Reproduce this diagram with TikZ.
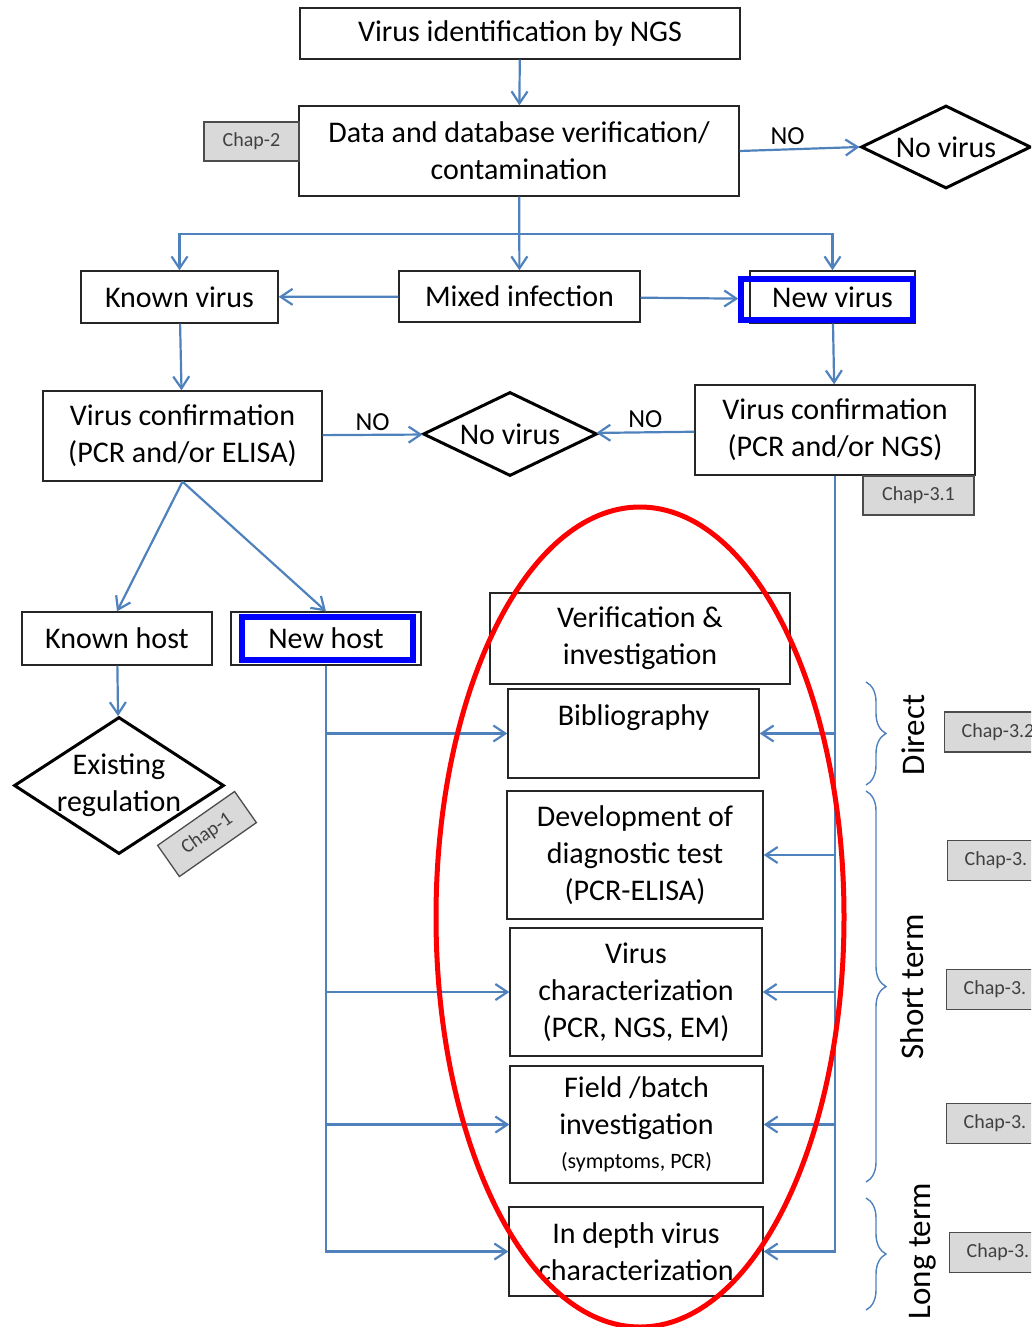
\documentclass[tikz,border=0pt]{standalone}
\usepackage{fontspec}
\setmainfont{Carlito}
\usetikzlibrary{shapes.geometric, arrows.meta, positioning, decorations.pathreplacing}
\definecolor{linkblue}{RGB}{79,129,189}
\definecolor{chapgray}{RGB}{217,217,217}

\begin{document}
\begin{tikzpicture}[
    x=1pt, y=-1pt,
    process/.style={rectangle, draw=black!85, line width=1.3pt, fill=white, align=center, inner sep=0pt, font=\fontsize{30}{37}\selectfont},
    decision/.style={diamond, draw=black, line width=3pt, fill=white, align=center, inner sep=0pt, aspect=2, font=\fontsize{30}{37}\selectfont},
    chapbox/.style={rectangle, draw=black!70, line width=1.3pt, fill=chapgray, minimum height=39pt, inner sep=0pt, text=black!75, font=\fontsize{20}{24}\selectfont},
    sidechap/.style={chapbox, anchor=west, align=left, text width=77pt, inner xsep=17pt, minimum height=40pt},
    hilite/.style={rectangle, draw=blue, line width=5.5pt, inner sep=0pt},
    answer/.style={font=\fontsize{26}{30}\selectfont},
    term/.style={rotate=90, font=\fontsize{33}{40}\selectfont},
    line/.style={draw=linkblue, line width=2.2pt, -{Straight Barb[length=12pt, width=16pt]}},
    bracket/.style={draw=linkblue, line width=1.4pt, decorate, decoration={brace, amplitude=20pt}}
]
    \useasboundingbox (0,0) rectangle (1031,1327);
    \clip (0,0) rectangle (1031,1327);

    % --- TOP: identification and verification ---
    \node [process, minimum width=440pt, minimum height=51pt] (ngs) at (520,33.5) {Virus identification by NGS};
    \node [process, minimum width=440pt, minimum height=90pt] (data) at (519,151) {Data and database verification/\\contamination};
    \node [chapbox, minimum width=95pt] (chap2) at (251.5,141.5) {Chap-2};
    \node [decision, minimum width=170pt, minimum height=83pt] (novirus1) at (946,147) {No virus};

    \node [process, minimum width=197pt, minimum height=52pt] (knownvirus) at (179.5,297) {Known virus};
    \node [process, minimum width=241pt, minimum height=51pt] (mixed) at (519.5,296.5) {Mixed infection};
    \node [process, minimum width=165pt, minimum height=52pt] (newvirus) at (832.5,297) {New virus};
    \node [hilite, minimum width=172pt, minimum height=41pt] (newvirushl) at (827,299.5) {};

    % --- CONFIRMATION ---
    \node [process, minimum width=279pt, minimum height=90pt] (confelisa) at (182.5,436) {Virus confirmation\\(PCR and/or ELISA)};
    \node [decision, minimum width=174pt, minimum height=84pt] (novirus2) at (510,434) {No virus};
    \node [process, minimum width=280pt, minimum height=90pt] (confngs) at (835,430) {Virus confirmation\\(PCR and/or NGS)};
    \node [chapbox, minimum width=111pt] (chap31) at (918.5,495.5) {Chap-3.1};

    \node [process, minimum width=190pt, minimum height=53pt] (knownhost) at (117,638.5) {Known host};
    \node [process, minimum width=190pt, minimum height=53pt] (newhost) at (326,638.5) {New host};
    \node [hilite, minimum width=171pt, minimum height=43pt] (newhosthl) at (327.5,638.5) {};
    \node [decision, aspect=1.5, inner sep=-6pt, minimum width=210pt, minimum height=137pt] (existing) at (119,785.5) {Existing\\regulation};
    \node [chapbox, rotate=35, minimum width=94pt, minimum height=38pt] (chap1) at (207,834) {Chap-1};

    % --- VERIFICATION COLUMN ---
    \node [process, minimum width=300pt, minimum height=91pt] (verif) at (640,638.5) {Verification \&\\investigation};
    \node [process, minimum width=251pt, minimum height=89pt] (biblio) at (633.5,733.5) {Bibliography\\\mbox{}};
    \node [process, minimum width=256pt, minimum height=128pt] (develop) at (635,855) {Development of\\diagnostic test\\(PCR-ELISA)};
    \node [process, minimum width=252pt, minimum height=128pt] (virchar) at (636,992) {Virus\\characterization\\(PCR, NGS, EM)};
    \node [process, minimum width=253pt, minimum height=117pt] (field) at (636.5,1124.5) {Field /batch\\investigation\\[-3pt]{\fontsize{22}{26}\selectfont (symptoms, PCR)}};
    \node [process, minimum width=254pt, minimum height=89pt] (indepth) at (636,1251.5) {In depth virus\\characterization};

    % --- TIME SCALE ---
    \draw [bracket] (866,682) -- (866,785);
    \node [term] (direct) at (913,735) {Direct};
    \draw [bracket] (866,791) -- (866,1182);
    \node [term] (shortterm) at (912,987) {Short term};
    \draw [bracket] (866,1198) -- (866,1310);
    \node [term] (longterm) at (923,1251) {Long term};

    \node [sidechap] (chap32) at (944,732) {Chap-3.2};
    \node [sidechap] (chap33) at (947,860.5) {Chap-3.};
    \node [sidechap] (chap34) at (946,989.5) {Chap-3.};
    \node [sidechap] (chap35) at (946,1123.5) {Chap-3.};
    \node [sidechap] (chap36) at (949,1252.5) {Chap-3.};

    % --- PATH CONNECTIONS ---
    \coordinate (split) at (519,234);
    \path [line] (ngs) -- (data);
    \path [line] (data.east) -- node [answer, above, pos=0.4] (no1) {NO} (novirus1.west);
    \path [line] (data) -- (mixed);
    \path [line] (split) -| (knownvirus);
    \path [line] (split) -| (newvirus);
    \path [line] (mixed) -- (knownvirus);
    \path [line] (mixed) -- (newvirushl);

    \path [line] (knownvirus) -- (confelisa);
    \path [line] (newvirus) -- (confngs);
    \path [line] (confelisa) -- node [answer, above] (no2) {NO} (novirus2);
    \path [line] (confngs) -- node [answer, above] (no3) {NO} (novirus2);
    \path [line] (confelisa.south) -- (knownhost.north);
    \path [line] (confelisa.south) -- (newhost.north);
    \path [line] (knownhost) -- (existing);

    \path [line] (newhost.south) |- (indepth.west);
    \path [line] (newhost.south |- biblio.west) -- (biblio.west);
    \path [line] (newhost.south |- virchar.west) -- (virchar.west);
    \path [line] (newhost.south |- field.west) -- (field.west);

    \path [line] (confngs.south) |- (indepth.east);
    \path [line] (confngs.south |- biblio.east) -- (biblio.east);
    \path [line] (confngs.south |- develop.east) -- (develop.east);
    \path [line] (confngs.south |- virchar.east) -- (virchar.east);
    \path [line] (confngs.south |- field.east) -- (field.east);

    \draw [red, line width=5pt] (640,917) ellipse [x radius=204, y radius=410];

\end{tikzpicture}
\end{document}
